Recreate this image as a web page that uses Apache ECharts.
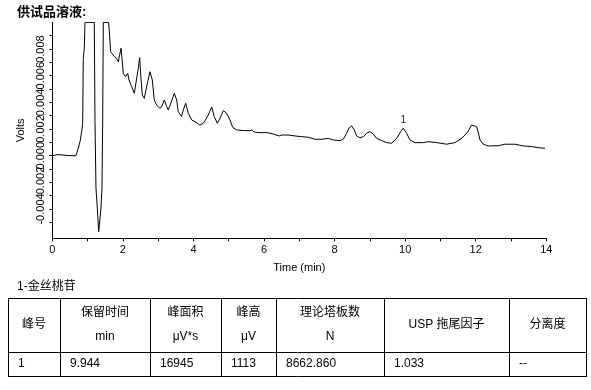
<!DOCTYPE html>
<html><head><meta charset="utf-8">
<script src="https://cdn.jsdelivr.net/npm/echarts@6/dist/echarts.min.js"></script>
<style>html,body{margin:0;padding:0;background:#fff}#c{width:591px;height:390px}</style>
</head><body><div id="c"></div>
<script>
// ---- chromatogram data (time in min, signal in Volts) ----
const times = [0,0.16,0.5,0.67,0.737,0.785,0.833,0.861,0.878,0.907,0.927,1.19,1.21,1.238,1.275,1.315,1.352,1.38,1.408,1.428,1.445,1.598,1.655,1.683,1.757,1.825,1.87,1.947,1.984,2.012,2.08,2.137,2.173,2.25,2.324,2.372,2.437,2.477,2.505,2.55,2.607,2.655,2.703,2.768,2.834,2.89,2.958,3.052,3.109,3.174,3.242,3.287,3.335,3.392,3.457,3.525,3.57,3.661,3.712,3.78,3.854,3.95,4.044,4.185,4.279,4.341,4.42,4.517,4.59,4.676,4.752,4.846,4.942,5.035,5.112,5.225,5.412,5.602,5.659,5.716,5.837,6.075,6.262,6.432,6.5,6.687,6.877,7.067,7.254,7.444,7.634,7.821,7.963,8.152,8.246,8.342,8.407,8.484,8.557,8.626,8.719,8.813,8.909,9.002,9.096,9.192,9.334,9.476,9.617,9.759,9.873,9.946,10.042,10.136,10.278,10.513,10.655,10.893,11.176,11.411,11.601,11.743,11.808,11.879,11.93,12.026,12.077,12.12,12.213,12.355,12.638,12.828,13.111,13.347,13.585,13.772,13.961];
const volts = [0,0.00008,0,0,0.00056,0.00105,0.0018,0.00243,0.0073,0.00806,0.0100,0.0100,0.00255,-0.00242,-0.00392,-0.0057,-0.0057,-0.00392,-0.00242,0.00268,0.0100,0.0100,0.0078,0.00768,0.00743,0.0073,0.00705,0.00806,0.00705,0.00618,0.00593,0.00618,0.00568,0.00518,0.00468,0.00468,0.00656,0.00735,0.00605,0.00455,0.0043,0.0043,0.00555,0.0063,0.00568,0.00418,0.0038,0.00355,0.00373,0.00418,0.00368,0.00343,0.00355,0.00418,0.00468,0.00418,0.0033,0.00294,0.00343,0.00393,0.00318,0.00268,0.00255,0.0023,0.00243,0.00268,0.00305,0.00365,0.00293,0.00243,0.0028,0.00338,0.00318,0.00268,0.00213,0.00193,0.00188,0.00188,0.00193,0.00178,0.00173,0.00173,0.00163,0.00148,0.00155,0.00155,0.00148,0.00143,0.00138,0.00123,0.00123,0.0013,0.00118,0.00113,0.00123,0.00168,0.00206,0.00223,0.00193,0.00148,0.00133,0.00143,0.00168,0.0018,0.00163,0.0013,0.00113,0.00098,0.00093,0.0013,0.0018,0.00206,0.00168,0.00118,0.00098,0.00098,0.00105,0.00098,0.00086,0.00098,0.0013,0.00168,0.00193,0.0023,0.00243,0.00218,0.0017,0.00118,0.00086,0.00073,0.00075,0.00086,0.00086,0.00073,0.00068,0.0006,0.00055];
// ---- axes ----
const xLabelValues = [0,2,4,6,8,10,12,14];
const yLabelValuesA = [-0.004,0,0.004,0.008];
const yLabelValuesB = [-0.002,0.002,0.006];
const yTickValues = [-0.005,-0.004,-0.003,-0.002,-0.001,0,0.001,0.002,0.003,0.004,0.005,0.006,0.007,0.008,0.009];
// ---- peak labels ----
const peakNames = ['1'];
const peakTimes = [9.946];
const peakVolts = [0.00206];
// ---- texts / table ----
const chartTitle = '供试品溶液:';
const tableTitle = '1-金丝桃苷';
const headerLine1 = ['峰号','保留时间','峰面积','峰高','理论塔板数','USP 拖尾因子','分离度'];
const headerLine2 = ['','min','μV*s','μV','N','',''];
const rowValues = ['1','9.944','16945','1113','8662.860','1.033','--'];

const FONT = '"Liberation Sans", Arial, "Noto Sans CJK SC", sans-serif';
const colX = [8,60,150,221,276,384,509,586];
const rowY = [298,352,376];

const graphics = [];
colX.forEach(x => graphics.push({type:'line', shape:{x1:x+0.5,y1:rowY[0],x2:x+0.5,y2:rowY[2]+1}, style:{stroke:'#000',lineWidth:1}, silent:true}));
rowY.forEach(y => graphics.push({type:'line', shape:{x1:colX[0],y1:y+0.5,x2:colX[colX.length-1]+1,y2:y+0.5}, style:{stroke:'#000',lineWidth:1}, silent:true}));
function txt(x,y,t,opts){
  const o = Object.assign({align:'center',vAlign:'middle',size:12,weight:'normal'},opts||{});
  return {type:'text', x:x, y:y, silent:true, style:{text:t, fill:'#000', font:o.weight+' '+o.size+'px '+FONT,
    align:o.align, verticalAlign:o.vAlign, textAlign:o.align, textVerticalAlign:o.vAlign}};
}
for (let i=0;i<headerLine1.length;i++){
  const cx = (colX[i]+colX[i+1])/2;
  if (headerLine2[i]) {
    graphics.push(txt(cx,313,headerLine1[i]));
    graphics.push(txt(cx,337,headerLine2[i]));
  } else {
    graphics.push(txt(cx,325,headerLine1[i]));
  }
  graphics.push(txt(colX[i]+10,364,rowValues[i],{align:'left'}));
}
graphics.push(txt(17,287,tableTitle,{align:'left'}));
graphics.push(txt(17,12,chartTitle,{align:'left',size:13,weight:'bold'}));

function yAxisWith(labels, main){
  return {type:'value', min:-0.0062, max:0.010, position:'left',
    name: main ? 'Volts' : '', nameLocation:'middle', nameGap:26,
    nameTextStyle:{color:'#000', fontSize:11, fontFamily:FONT},
    axisLine:{show:main, onZero:false, lineStyle:{color:'#000', width:1}},
    axisTick:{show:main, length:3, customValues:yTickValues, lineStyle:{color:'#000'}},
    axisLabel:{color:'#000', fontSize:11, fontFamily:FONT, rotate:90, margin:6,
      showMinLabel:true, showMaxLabel:true, hideOverlap:false,
      customValues:labels, formatter:v => v.toFixed(3)},
    splitLine:{show:false}};
}

const chart = echarts.init(document.getElementById('c'), null, {renderer:'canvas'});
chart.setOption({
  animation:false,
  backgroundColor:'#fff',
  grid:{left:52.3, right:44.7, top:22.4, bottom:151.7, containLabel:false},
  xAxis:{type:'value', min:0, max:14, interval:1,
    name:'Time (min)', nameLocation:'middle', nameGap:24,
    nameTextStyle:{color:'#000', fontSize:11, fontFamily:FONT},
    axisLine:{onZero:false, lineStyle:{color:'#000', width:1}},
    axisTick:{show:true, length:3, lineStyle:{color:'#000'}},
    axisLabel:{color:'#000', fontSize:11, fontFamily:FONT, margin:6, showMinLabel:true, showMaxLabel:true,
      formatter:v => xLabelValues.indexOf(v) >= 0 ? String(v) : ''},
    splitLine:{show:false}},
  yAxis:[yAxisWith(yLabelValuesA, true), Object.assign(yAxisWith(yLabelValuesB, false), {offset:0})],
  graphic:graphics,
  series:[
    {type:'line', data:times.map((t,i)=>[t,volts[i]]), showSymbol:false, symbol:'none',
      lineStyle:{color:'#000', width:1}, silent:true},
    {type:'scatter', data:peakTimes.map((t,i)=>({value:[t,peakVolts[i]], name:peakNames[i]})),
      symbolSize:0, silent:true,
      label:{show:true, position:'top', distance:3, formatter:p=>p.name, color:'#000', fontSize:11, fontFamily:FONT}}
  ]
});
</script></body></html>
